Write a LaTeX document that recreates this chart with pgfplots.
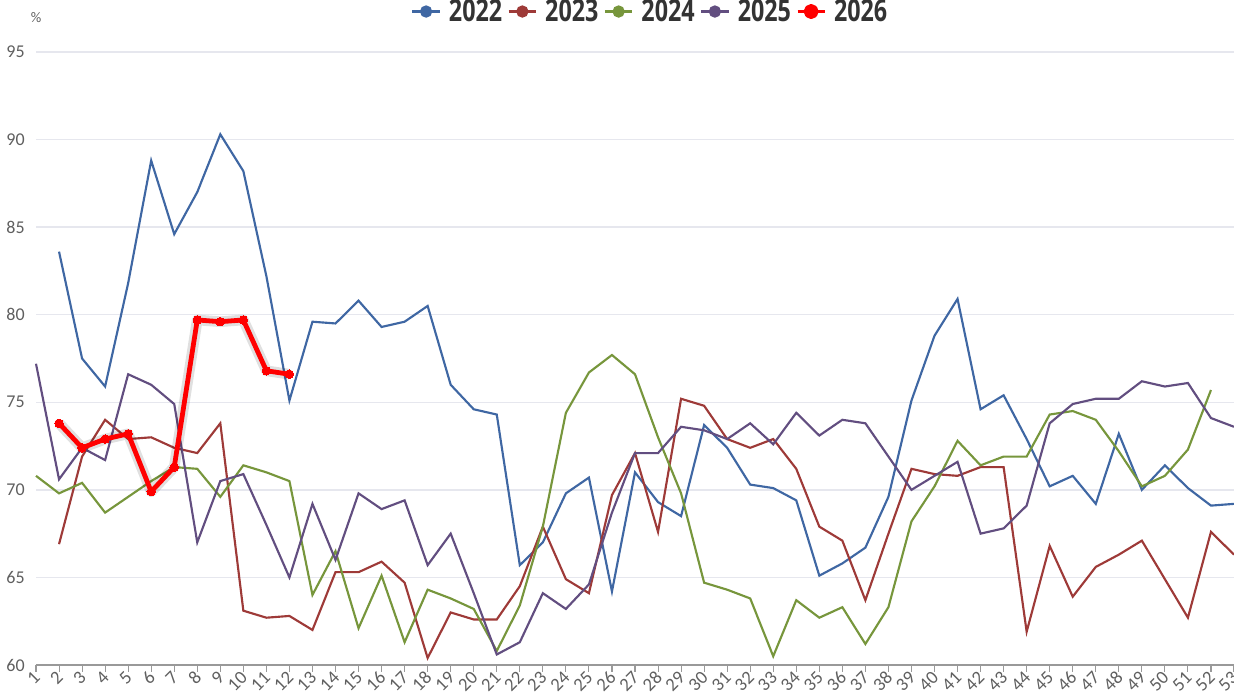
\documentclass[border=0pt]{standalone}
\usepackage{fontspec}
\setmainfont{Carlito}
\newfontfamily\legfont{Open Sans}[FakeStretch=0.76]
\usepackage{pgfplots}
\pgfplotsset{compat=1.18}
\definecolor{c22}{RGB}{63,103,163}
\definecolor{c23}{RGB}{158,58,56}
\definecolor{c24}{RGB}{119,150,60}
\definecolor{c25}{RGB}{98,78,128}
\definecolor{c26}{RGB}{255,0,0}
\definecolor{tickgray}{RGB}{95,95,95}
\definecolor{gridc}{RGB}{230,231,238}
\pgfplotsset{leg/.style={legend image code/.code={\draw[#1,line width=1.8pt](0cm,0cm)--(0.72cm,0cm);\fill[#1](0.36cm,0cm) circle (3.8pt);}}}
\begin{document}
\begin{tikzpicture}
\useasboundingbox (-27pt,-24.75pt) rectangle (898.5pt,498.75pt);
\begin{axis}[
  at={(0,0)}, anchor=south west,
  scale only axis, width=898.5pt, height=459.75pt,
  xmin=1, xmax=53, ymin=60, ymax=95,
  xtick={1,...,53}, ytick={60,65,...,95},
  axis x line*=bottom, axis y line*=left,
  x axis line style={draw=gray!80, line width=0.8pt, -},
  y axis line style={draw=none},
  ymajorgrids, grid style={gridc, line width=1pt},
  major tick length=5pt, tick align=outside,
  xtick style={draw=gray!80, line width=0.8pt},
  ytick style={draw=none},
  /pgf/number format/assume math mode=true,
  xticklabel style={rotate=45, anchor=east, font=\fontsize{14}{15}\selectfont, text=tickgray, inner sep=1pt, yshift=-2pt},
  yticklabel style={font=\fontsize{13.5}{14}\selectfont, text=tickgray, xshift=0pt},
  clip=false,
  legend columns=5,
  legend style={at={(0.513,1.066)}, anchor=center, draw=none, fill=none,
    font=\legfont\bfseries\fontsize{23}{25}\selectfont, text=black!80,
    /tikz/every even column/.append style={column sep=2pt},
    /tikz/every odd column/.append style={column sep=4pt}},
  legend cell align=left,
]
\addplot[c22, line width=1.6pt, leg=c22] coordinates {
(2,83.6)(3,77.5)(4,75.9)(5,81.8)(6,88.8)(7,84.6)(8,87.0)(9,90.3)(10,88.2)(11,82.2)(12,75.1)(13,79.6)(14,79.5)(15,80.8)(16,79.3)(17,79.6)(18,80.5)(19,76.0)(20,74.6)(21,74.3)(22,65.7)(23,67.0)(24,69.8)(25,70.7)(26,64.2)(27,71.0)(28,69.3)(29,68.5)(30,73.7)(31,72.4)(32,70.3)(33,70.1)(34,69.4)(35,65.1)(36,65.8)(37,66.7)(38,69.6)(39,75.1)(40,78.8)(41,80.9)(42,74.6)(43,75.4)(44,72.9)(45,70.2)(46,70.8)(47,69.2)(48,73.2)(49,70.0)(50,71.4)(51,70.1)(52,69.1)(53,69.2)};
\addlegendentry{2022}
\addplot[c23, line width=1.6pt, leg=c23] coordinates {
(2,66.9)(3,71.9)(4,74.0)(5,72.9)(6,73.0)(7,72.4)(8,72.1)(9,73.8)(10,63.1)(11,62.7)(12,62.8)(13,62.0)(14,65.3)(15,65.3)(16,65.9)(17,64.7)(18,60.4)(19,63.0)(20,62.6)(21,62.6)(22,64.5)(23,67.9)(24,64.9)(25,64.1)(26,69.7)(27,72.1)(28,67.6)(29,75.2)(30,74.8)(31,72.9)(32,72.4)(33,72.9)(34,71.2)(35,67.9)(36,67.1)(37,63.7)(38,67.5)(39,71.2)(40,70.9)(41,70.8)(42,71.3)(43,71.3)(44,61.9)(45,66.8)(46,63.9)(47,65.6)(48,66.3)(49,67.1)(50,64.9)(51,62.7)(52,67.6)(53,66.3)};
\addlegendentry{2023}
\addplot[c24, line width=1.6pt, leg=c24] coordinates {
(1,70.8)(2,69.8)(3,70.4)(4,68.7)(5,69.6)(6,70.5)(7,71.3)(8,71.2)(9,69.6)(10,71.4)(11,71.0)(12,70.5)(13,64.0)(14,66.5)(15,62.1)(16,65.1)(17,61.3)(18,64.3)(19,63.8)(20,63.2)(21,60.8)(22,63.4)(23,67.9)(24,74.4)(25,76.7)(26,77.7)(27,76.6)(28,73.0)(29,69.8)(30,64.7)(31,64.3)(32,63.8)(33,60.5)(34,63.7)(35,62.7)(36,63.3)(37,61.2)(38,63.3)(39,68.2)(40,70.2)(41,72.8)(42,71.4)(43,71.9)(44,71.9)(45,74.3)(46,74.5)(47,74.0)(48,72.2)(49,70.2)(50,70.8)(51,72.3)(52,75.7)};
\addlegendentry{2024}
\addplot[c25, line width=1.6pt, leg=c25] coordinates {
(1,77.2)(2,70.6)(3,72.4)(4,71.7)(5,76.6)(6,76.0)(7,74.9)(8,67.0)(9,70.5)(10,70.9)(11,68.0)(12,65.0)(13,69.2)(14,66.0)(15,69.8)(16,68.9)(17,69.4)(18,65.7)(19,67.5)(20,64.1)(21,60.6)(22,61.3)(23,64.1)(24,63.2)(25,64.6)(26,68.7)(27,72.1)(28,72.1)(29,73.6)(30,73.4)(31,72.9)(32,73.8)(33,72.6)(34,74.4)(35,73.1)(36,74.0)(37,73.8)(38,71.9)(39,70.0)(40,70.8)(41,71.6)(42,67.5)(43,67.8)(44,69.1)(45,73.8)(46,74.9)(47,75.2)(48,75.2)(49,76.2)(50,75.9)(51,76.1)(52,74.1)(53,73.6)};
\addlegendentry{2025}
\addplot[black, opacity=0.12, line width=8pt, forget plot, line join=round] coordinates {
(2,73.8)(3,72.4)(4,72.9)(5,73.2)(6,69.9)(7,71.3)(8,79.7)(9,79.6)(10,79.7)(11,76.8)(12,76.6)};
\addplot[c26, line width=3.6pt, line join=round, mark=*, mark size=3.2pt, mark options={line width=0pt, fill=c26}, leg=c26] coordinates {
(2,73.8)(3,72.4)(4,72.9)(5,73.2)(6,69.9)(7,71.3)(8,79.7)(9,79.6)(10,79.7)(11,76.8)(12,76.6)};
\addlegendentry{2026}
\node[anchor=center, text=tickgray, font=\fontsize{11}{12}\selectfont] at (rel axis cs:0,1) [yshift=26pt] {\%};
\end{axis}
\end{tikzpicture}
\end{document}
